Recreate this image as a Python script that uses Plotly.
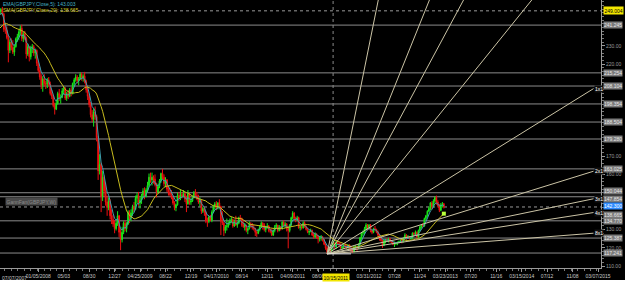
import pandas as pd
import plotly.graph_objects as go

# ---------------- weekly GBPJPY bars (open, high, low, close), week ending Saturday ----------------
ohlc_2007 = [
    (247.5, 249.5, 246.5, 248.5), (248.5, 250.5, 247.0, 249.8), (249.8, 251.1, 246.5, 247.2), (247.2, 248.0, 237.5, 239.0),
    (239.0, 242.5, 236.5, 238.3), (238.3, 240.5, 233.5, 234.5), (234.5, 236.0, 221.0, 227.5), (227.5, 233.5, 226.0, 232.0),
    (232.0, 234.0, 227.5, 229.0), (229.0, 233.0, 225.5, 226.5), (226.5, 230.5, 224.5, 229.5), (229.5, 234.5, 229.0, 233.8),
    (233.8, 236.5, 232.0, 235.0), (235.0, 238.5, 233.0, 237.5), (237.5, 241.0, 236.0, 239.5), (239.5, 241.5, 232.5, 234.0),
    (234.0, 237.5, 232.0, 236.5), (236.5, 238.0, 233.0, 234.0), (234.0, 235.0, 223.0, 225.5), (225.5, 231.0, 224.5, 229.5),
    (229.5, 230.0, 221.5, 224.0), (224.0, 230.0, 222.5, 228.5), (228.5, 231.0, 226.0, 229.5), (229.5, 230.5, 224.5, 226.0),
    (226.0, 228.5, 223.0, 227.5), (227.5, 228.0, 219.0, 220.5),
]
ohlc_2008 = [
    (220.5, 221.5, 215.5, 216.5), (216.5, 218.5, 211.5, 213.0), (213.0, 214.5, 206.5, 208.5), (208.5, 213.5, 205.0, 212.0),
    (212.0, 214.5, 208.0, 209.5), (209.5, 211.0, 206.5, 209.0), (209.0, 212.5, 207.0, 211.5), (211.5, 213.0, 208.0, 209.0),
    (209.0, 210.5, 203.0, 204.0), (204.0, 206.0, 201.0, 202.5), (202.5, 203.5, 196.5, 197.5), (197.5, 199.0, 192.6, 195.5),
    (195.5, 200.5, 195.0, 198.5), (198.5, 205.0, 198.0, 204.0), (204.0, 206.5, 200.0, 201.5), (201.5, 203.5, 198.5, 202.0),
    (202.0, 207.0, 201.5, 205.5), (205.5, 208.0, 203.5, 206.5), (206.5, 207.5, 200.5, 201.5), (201.5, 205.0, 200.0, 204.0),
    (204.0, 206.0, 201.0, 202.5), (202.5, 207.0, 202.0, 206.0), (206.0, 207.5, 202.5, 204.0), (204.0, 210.0, 203.5, 209.5),
    (209.5, 212.5, 208.0, 211.5), (211.5, 214.5, 210.5, 213.0), (213.0, 214.0, 209.5, 211.0), (211.0, 213.0, 208.5, 212.0),
    (212.0, 215.5, 211.5, 214.5), (214.5, 215.5, 211.0, 212.5), (212.5, 214.5, 210.5, 213.5), (213.5, 215.8, 209.5, 210.5),
    (210.5, 211.5, 204.5, 206.0), (206.0, 207.5, 200.5, 202.5), (202.5, 203.5, 196.5, 198.0), (198.0, 199.5, 191.0, 192.5),
    (192.5, 195.0, 188.5, 190.0), (190.0, 196.0, 186.0, 194.0), (194.0, 197.0, 189.5, 191.5), (191.5, 192.5, 178.0, 180.0),
    (180.0, 181.0, 157.0, 162.0), (162.0, 171.0, 160.0, 165.5), (165.5, 166.5, 139.5, 148.0), (148.0, 162.0, 145.5, 158.5),
    (158.5, 159.5, 148.0, 151.0), (151.0, 155.5, 143.0, 145.0), (145.0, 148.5, 137.5, 142.0), (142.0, 147.5, 140.5, 145.5),
    (145.5, 146.5, 135.5, 137.5), (137.5, 141.0, 133.0, 135.5), (135.5, 138.0, 131.5, 133.0), (133.0, 135.0, 128.0, 130.5),
]
ohlc_2009 = [
    (130.5, 134.5, 129.5, 133.5), (133.5, 140.0, 132.0, 137.5), (137.5, 138.0, 126.0, 128.5), (128.5, 130.5, 118.8, 124.5),
    (124.5, 131.5, 123.0, 128.5), (128.5, 134.5, 127.5, 133.5), (133.5, 135.0, 129.0, 130.5), (130.5, 134.0, 128.5, 133.0),
    (133.0, 140.5, 132.5, 139.5), (139.5, 140.5, 133.5, 136.5), (136.5, 141.0, 134.5, 139.0), (139.0, 143.5, 137.5, 142.5),
    (142.5, 145.0, 139.5, 141.0), (141.0, 148.5, 140.5, 147.0), (147.0, 150.0, 144.5, 148.5), (148.5, 150.5, 143.0, 144.5),
    (144.5, 147.5, 141.5, 146.0), (146.0, 149.5, 144.0, 148.5), (148.5, 152.5, 147.0, 151.0), (151.0, 153.0, 146.5, 148.0),
    (148.0, 152.5, 147.5, 151.5), (151.5, 156.0, 150.5, 154.0), (154.0, 160.5, 153.0, 158.5), (158.5, 161.0, 155.5, 157.0),
    (157.0, 161.0, 154.0, 158.5), (158.5, 159.5, 155.0, 157.5), (157.5, 160.0, 153.5, 154.5), (154.5, 155.5, 147.5, 150.5),
    (150.5, 155.0, 149.5, 153.5), (153.5, 157.5, 152.5, 156.5), (156.5, 161.0, 155.5, 160.5), (160.5, 163.0, 157.5, 158.5),
    (158.5, 160.0, 153.5, 155.0), (155.0, 158.5, 153.0, 157.0), (157.0, 157.5, 150.5, 152.0), (152.0, 153.5, 148.5, 150.0),
    (150.0, 152.5, 148.0, 149.0), (149.0, 151.5, 146.5, 147.5), (147.5, 148.5, 143.5, 144.5), (144.5, 145.5, 140.5, 142.0),
    (142.0, 144.0, 140.0, 143.5), (143.5, 150.0, 143.0, 148.5), (148.5, 150.5, 145.5, 147.0), (147.0, 152.0, 146.0, 149.0),
    (149.0, 150.5, 147.0, 148.0), (148.0, 151.5, 147.5, 149.5), (149.5, 150.0, 145.0, 146.5), (146.5, 148.5, 139.5, 144.0),
    (144.0, 151.5, 143.5, 149.5), (149.5, 150.0, 143.5, 145.0), (145.0, 147.0, 143.5, 145.5), (145.5, 148.5, 145.0, 147.5),
]
ohlc_2010 = [
    (147.5, 151.0, 147.0, 150.0), (150.0, 152.0, 147.5, 148.5), (148.5, 150.5, 146.0, 147.0), (147.0, 149.0, 144.0, 145.0),
    (145.0, 147.5, 142.5, 145.5), (145.5, 146.0, 138.5, 140.0), (140.0, 142.5, 139.0, 141.5), (141.5, 142.5, 137.5, 139.5),
    (139.5, 140.0, 133.5, 134.5), (134.5, 136.5, 131.5, 134.5), (134.5, 137.5, 133.5, 137.0), (137.0, 138.0, 134.5, 135.0),
    (135.0, 140.5, 134.0, 139.5), (139.5, 143.5, 139.0, 142.5), (142.5, 145.0, 141.0, 144.0), (144.0, 145.5, 140.5, 141.5),
    (141.5, 145.0, 141.0, 144.5), (144.5, 146.5, 141.5, 142.5), (142.5, 143.0, 127.0, 134.5), (134.5, 140.0, 132.5, 133.5),
    (133.5, 134.5, 126.5, 129.5), (129.5, 132.5, 128.0, 131.5), (131.5, 136.0, 129.5, 132.0), (132.0, 134.5, 131.0, 133.5),
    (133.5, 136.0, 132.5, 134.5), (134.5, 137.0, 133.5, 135.5), (135.5, 136.0, 131.0, 132.0), (132.0, 135.5, 131.5, 134.5),
    (134.5, 137.5, 132.0, 132.5), (132.5, 134.5, 131.0, 133.5), (133.5, 137.0, 133.0, 136.5), (136.5, 138.0, 135.0, 136.0),
    (136.0, 136.5, 131.5, 132.5), (132.5, 134.5, 131.0, 131.5), (131.5, 133.5, 129.5, 132.5), (132.5, 132.5, 128.5, 129.5),
    (129.5, 131.0, 127.5, 130.5), (130.5, 134.5, 130.0, 133.0), (133.0, 134.0, 131.0, 132.0), (132.0, 133.5, 130.0, 131.0),
    (131.0, 132.5, 129.5, 130.5), (130.5, 131.0, 126.5, 128.5), (128.5, 129.5, 126.0, 128.0), (128.0, 130.5, 127.5, 130.0),
    (130.0, 132.5, 129.0, 131.5), (131.5, 134.5, 131.0, 133.5), (133.5, 134.0, 130.0, 132.5), (132.5, 133.5, 129.0, 130.0),
    (130.0, 132.0, 128.5, 131.0), (131.0, 133.5, 130.5, 132.0), (132.0, 132.5, 128.5, 129.5), (129.5, 130.5, 128.0, 129.0),
]
ohlc_2011 = [
    (129.0, 130.5, 126.5, 127.0), (127.0, 130.0, 126.5, 129.5), (129.5, 132.5, 128.5, 131.5), (131.5, 133.5, 130.5, 132.5),
    (132.5, 132.5, 128.5, 129.5), (129.5, 132.5, 129.0, 131.5), (131.5, 132.0, 129.5, 130.5), (130.5, 134.5, 130.0, 134.0),
    (134.0, 135.0, 131.5, 132.0), (132.0, 134.0, 131.0, 133.0), (133.0, 133.5, 129.0, 131.0), (131.0, 132.0, 119.8, 129.5),
    (129.5, 133.0, 128.5, 132.5), (132.5, 137.0, 132.0, 136.5), (136.5, 140.0, 135.5, 139.0), (139.0, 139.5, 135.0, 136.0),
    (136.0, 137.0, 134.0, 135.5), (135.5, 137.5, 134.5, 136.5), (136.5, 137.0, 130.5, 131.0), (131.0, 132.0, 129.5, 131.5),
    (131.5, 133.0, 130.0, 131.0), (131.0, 134.5, 130.5, 133.5), (133.5, 134.5, 131.0, 131.5), (131.5, 132.0, 129.5, 130.0),
    (130.0, 131.0, 128.0, 128.5), (128.5, 129.5, 127.0, 129.0), (129.0, 130.5, 128.5, 129.5), (129.5, 130.0, 126.5, 127.0),
    (127.0, 128.5, 125.0, 126.0), (126.0, 128.5, 125.5, 127.5), (127.5, 128.0, 125.0, 126.5), (126.5, 127.0, 122.5, 125.0),
    (125.0, 126.5, 123.5, 125.5), (125.5, 127.0, 124.0, 126.0), (126.0, 126.5, 123.5, 124.5), (124.5, 125.0, 121.5, 122.0),
    (122.0, 122.5, 119.0, 120.0), (120.0, 121.0, 116.8, 118.0), (118.0, 120.5, 117.5, 119.5), (119.5, 120.0, 117.6, 118.5),
    (118.5, 121.5, 118.0, 121.0), (121.0, 124.3, 120.5, 122.5), (122.5, 123.0, 119.5, 120.5), (120.5, 124.0, 119.5, 123.0),
    (123.0, 124.0, 121.5, 122.5), (122.5, 123.5, 121.0, 122.0), (122.0, 122.5, 119.5, 120.0), (120.0, 121.0, 119.0, 120.5),
    (120.5, 122.5, 119.5, 121.5), (121.5, 122.5, 120.0, 120.5), (120.5, 121.5, 119.5, 120.0), (120.0, 122.0, 119.5, 121.5),
    (121.5, 122.0, 119.0, 119.5),
]
ohlc_2012 = [
    (119.5, 120.5, 117.5, 118.5), (118.5, 119.5, 117.3, 118.0), (118.0, 121.0, 117.5, 120.5), (120.5, 121.5, 119.5, 120.5),
    (120.5, 121.0, 118.5, 120.0), (120.0, 122.5, 119.5, 122.0), (122.0, 126.0, 121.5, 125.5), (125.5, 128.5, 124.5, 128.0),
    (128.0, 129.5, 126.5, 128.5), (128.5, 131.5, 127.5, 130.5), (130.5, 133.5, 129.5, 132.5), (132.5, 133.0, 129.5, 131.0),
    (131.0, 133.0, 130.0, 132.5), (132.5, 133.0, 128.5, 129.5), (129.5, 130.0, 127.5, 128.5), (128.5, 131.0, 128.0, 130.5),
    (130.5, 132.0, 129.5, 130.0), (130.0, 130.5, 128.0, 128.5), (128.5, 129.5, 126.0, 127.0), (127.0, 127.5, 124.0, 125.0),
    (125.0, 126.5, 123.5, 124.0), (124.0, 124.5, 120.0, 121.5), (121.5, 124.5, 121.0, 124.0), (124.0, 125.0, 122.5, 124.5),
    (124.5, 125.5, 123.5, 124.0), (124.0, 125.5, 123.0, 125.0), (125.0, 125.5, 123.0, 123.5), (123.5, 124.0, 122.5, 123.0),
    (123.0, 124.0, 121.5, 122.0), (122.0, 123.5, 120.5, 122.5), (122.5, 123.0, 121.5, 122.5), (122.5, 123.5, 121.5, 123.0),
    (123.0, 124.0, 122.5, 123.5), (123.5, 124.5, 123.0, 124.0), (124.0, 124.5, 122.5, 123.5), (123.5, 126.0, 123.0, 125.5),
    (125.5, 128.0, 125.0, 127.0), (127.0, 127.5, 124.5, 125.5), (125.5, 127.0, 125.0, 126.0), (126.0, 126.5, 124.5, 125.0),
    (125.0, 126.0, 124.5, 125.5), (125.5, 128.5, 125.0, 128.0), (128.0, 128.5, 126.5, 127.5), (127.5, 129.5, 127.0, 128.5),
    (128.5, 129.0, 125.5, 126.0), (126.0, 130.0, 125.5, 129.5), (129.5, 132.0, 129.0, 131.5), (131.5, 133.0, 130.5, 132.5),
    (132.5, 133.5, 131.5, 132.0), (132.0, 136.5, 131.5, 136.0), (136.0, 138.0, 135.0, 137.5), (137.5, 140.5, 137.0, 140.0),
]
ohlc_2013 = [
    (140.0, 142.5, 139.5, 141.5), (141.5, 145.0, 140.5, 144.5), (144.5, 145.5, 141.0, 142.5), (142.5, 146.5, 142.0, 145.5),
    (145.5, 148.0, 144.5, 147.5), (147.5, 148.5, 143.5, 145.0), (145.0, 146.0, 142.0, 143.0), (143.0, 144.0, 139.5, 140.5),
    (140.5, 144.5, 140.0, 143.5), (143.5, 145.0, 142.0, 144.0), (144.0, 144.5, 141.5, 142.3),
]
# closes of the 20 weeks before the first visible bar (indicator warm-up)
pre_close_2007 = [236.5, 234.0, 229.5, 227.0, 231.5, 233.5, 236.0, 235.5, 237.5, 239.5,
                  240.5, 239.0, 241.5, 242.5, 243.5, 245.0, 245.5, 244.0, 246.5, 247.0]

# Gann fan
fan_origin_date = "2011-09-17"
fan_origin_price = 116.8
fan_slope_per_week = 0.505
fan_ratios = [8, 4, 3, 2, 1, 1/2, 1/3, 1/4, 1/8]
fan_names = ["1x8", "1x4", "1x3", "1x2", "1x1", "2x1", "3x1", "4x1", "8x1"]

# horizontal levels and their right-axis labels
level_values = [241.245, 215.254, 208.104, 198.354, 188.504, 179.280, 163.025, 150.044, 147.854, 134.770, 125.387, 117.241]
level_label_shift = [0, 0, 0, 0, 0, 0, 0, 2, -2, 0, 0, 0]
cross_price = 249.004
cross_date = "2011-10-15"
cross_date_label = "10/15/2011"

y_tick_vals = [110, 120, 130, 160, 170, 220, 230]
x_tick_dates = ["2008-01-05", "2008-05-03", "2008-08-30", "2008-12-27", "2009-04-25", "2009-08-22", "2009-12-19",
                "2010-04-17", "2010-08-14", "2010-12-11", "2011-04-09", "2011-08-06", "2011-12-03", "2012-03-31",
                "2012-07-28", "2012-11-24", "2013-03-23", "2013-07-20", "2013-11-16", "2014-03-15", "2014-07-12",
                "2014-11-08", "2015-03-07"]
x_tick_text = ["01/05/2008", "05/03", "08/30", "12/27", "04/25/2009", "08/22", "12/19", "04/17/2010", "08/14",
               "12/11", "04/09/2011", "08/06", "", "03/31/2012", "07/28", "11/24", "03/23/2013", "07/20", "11/16",
               "03/15/2014", "07/12", "11/08", "03/07/2015"]
first_date_label = "07/07/2007"

x_start, x_end = "2007-07-10", "2015-03-21"
y_min, y_max = 109.1, 254.9

# ---------------- build ----------------
bars = ohlc_2007 + ohlc_2008 + ohlc_2009 + ohlc_2010 + ohlc_2011 + ohlc_2012 + ohlc_2013
dates = pd.date_range("2007-07-07", periods=len(bars), freq="W-SAT")
o = [b[0] for b in bars]
h = [b[1] for b in bars]
l = [b[2] for b in bars]
c = [b[3] for b in bars]

close_all = pd.Series(pre_close_2007 + c)
n0 = len(pre_close_2007)
ema5 = close_all.ewm(span=5, adjust=False).mean().iloc[n0:].to_numpy()
sma20 = close_all.rolling(20).mean().iloc[n0:].to_numpy()

FONT = "Liberation Sans, Arial, sans-serif"
fig = go.Figure()

fig.add_trace(go.Candlestick(
    x=dates, open=o, high=h, low=l, close=c,
    increasing=dict(line=dict(color="#19e619", width=1), fillcolor="#19e619"),
    decreasing=dict(line=dict(color="#ee1111", width=1), fillcolor="#ee1111"),
    whiskerwidth=0, showlegend=False, hoverinfo="skip"))

fig.add_trace(go.Scatter(x=dates, y=ema5, mode="lines", line=dict(color="#3f9fb0", width=1),
                         showlegend=False, hoverinfo="skip"))
fig.add_trace(go.Scatter(x=dates, y=sma20, mode="lines", line=dict(color="#c8bc1e", width=1),
                         showlegend=False, hoverinfo="skip"))
fig.add_trace(go.Scatter(x=[dates[-1]], y=[sma20[-1]], mode="markers",
                         marker=dict(color="#b8ff3a", size=4, symbol="square"),
                         showlegend=False, hoverinfo="skip"))

# Gann fan lines
od = pd.Timestamp(fan_origin_date)
fan_end = pd.Timestamp("2015-02-14")
weeks_end = (fan_end - od).days / 7.0
for r, name in zip(fan_ratios, fan_names):
    y_end = fan_origin_price + fan_slope_per_week * r * weeks_end
    fig.add_trace(go.Scatter(x=[od, fan_end], y=[fan_origin_price, y_end], mode="lines",
                             line=dict(color="#cbc4a6", width=1), showlegend=False, hoverinfo="skip"))
    if r <= 1:
        fig.add_annotation(x=fan_end, y=y_end, xref="x", yref="y", text=name, showarrow=False,
                           xanchor="left", yanchor="middle", font=dict(size=5, color="#ffffff", family=FONT),
                           bgcolor="#101010", borderpad=0)
# base line of the fan
fig.add_trace(go.Scatter(x=[od, od + pd.Timedelta(weeks=16)], y=[fan_origin_price, fan_origin_price], mode="lines",
                         line=dict(color="#e8e8e8", width=1), showlegend=False, hoverinfo="skip"))

shapes = []
for v, s in zip(level_values, level_label_shift):
    shapes.append(dict(type="line", xref="paper", x0=0, x1=1, yref="y", y0=v, y1=v,
                       line=dict(color="#8c8c8c", width=1), layer="below"))
    fig.add_annotation(x=1, xref="paper", y=v, yref="y", text=f"{v:.3f}", showarrow=False, xanchor="left",
                       xshift=2, yshift=s, font=dict(size=5, color="#e8e8e8", family=FONT),
                       bgcolor="#7a7a7a", borderpad=0)
# current price
last = c[-1]
shapes.append(dict(type="line", xref="paper", x0=0, x1=1, yref="y", y0=last, y1=last,
                   line=dict(color="#9a9a9a", width=1, dash="dot"), layer="below"))
fig.add_annotation(x=1, xref="paper", y=last, yref="y", text=f"{last:.3f}", showarrow=False, xanchor="left",
                   xshift=2, yshift=1, font=dict(size=5, color="#ffffff", family=FONT), bgcolor="#2f8cff", borderpad=0)
# SMA value label
fig.add_annotation(x=1, xref="paper", y=sma20[-1], yref="y", text=f"{sma20[-1]:.3f}", showarrow=False,
                   xanchor="left", xshift=2, yshift=-1, font=dict(size=5, color="#e8e8e8", family=FONT),
                   bgcolor="#7a7a7a", borderpad=0)
# crosshair
shapes.append(dict(type="line", xref="paper", x0=0, x1=1, yref="y", y0=cross_price, y1=cross_price,
                   line=dict(color="#9a9a9a", width=1, dash="dot"), layer="below"))
shapes.append(dict(type="line", xref="x", x0=cross_date, x1=cross_date, yref="paper", y0=0, y1=1,
                   line=dict(color="#8a8a8a", width=1, dash="dot"), layer="below"))
fig.add_annotation(x=1, xref="paper", y=cross_price, yref="y", text=f"{cross_price:.3f}", showarrow=False,
                   xanchor="left", xshift=2, font=dict(size=5, color="#000000", family=FONT),
                   bgcolor="#f2e600", borderpad=0.5)
fig.add_annotation(x=cross_date, xref="x", y=0, yref="paper", yanchor="top", yshift=-5, xshift=3,
                   text=cross_date_label, showarrow=False, font=dict(size=5, color="#000000", family=FONT),
                   bgcolor="#f2e600", borderpad=0.5)
fig.add_annotation(x=0, xref="paper", y=0, yref="paper", yanchor="top", xanchor="left", yshift=-5,
                   text=first_date_label, showarrow=False, font=dict(size=5, color="#c8c8c8", family=FONT))

# indicator captions
fig.add_annotation(x=0, xref="paper", y=1, yref="paper", xanchor="left", yanchor="top", xshift=1, yshift=1,
                   text=f"EMA(GBPJPY,Close,5): {ema5[-1]:.3f}", showarrow=False,
                   font=dict(size=5, color="#46b4c8", family=FONT))
fig.add_annotation(x=0, xref="paper", y=1, yref="paper", xanchor="left", yanchor="top", xshift=1, yshift=-5,
                   text=f"SMA(GBPJPY,Close,20): {sma20[-1]:.3f}", showarrow=False,
                   font=dict(size=5, color="#d8cc20", family=FONT))
fig.add_annotation(x=0.008, xref="paper", y=145.3, yref="y", xanchor="left", text="GannFan(GBPJPY,W)",
                   showarrow=False, font=dict(size=5, color="#8a8a8a", family=FONT), bgcolor="#4a4a4a", borderpad=0.5)

# white strip under the chart
shapes.append(dict(type="rect", xref="paper", yref="paper", x0=-0.01, x1=1.05, y0=-0.15, y1=-0.045,
                   fillcolor="#ffffff", line=dict(width=0), layer="above"))

fig.update_layout(
    width=625, height=306, margin=dict(l=0, r=24, t=0, b=38),
    paper_bgcolor="#000000", plot_bgcolor="#000000", shapes=shapes, showlegend=False,
    xaxis=dict(type="date", range=[x_start, x_end], rangeslider=dict(visible=False), showgrid=False,
               zeroline=False, showline=True, linecolor="#9a9a9a", ticks="outside", ticklen=3, tickcolor="#9a9a9a",
               tickmode="array", tickvals=x_tick_dates, ticktext=x_tick_text,
               tickfont=dict(size=5, color="#c8c8c8", family=FONT),
               minor=dict(ticks="outside", ticklen=2, tickcolor="#7a7a7a", dtick="M1", showgrid=False)),
    yaxis=dict(range=[y_min, y_max], side="right", showgrid=False, zeroline=False, showline=True,
               linecolor="#9a9a9a", ticks="outside", ticklen=3, tickcolor="#9a9a9a",
               tickmode="array", tickvals=y_tick_vals, ticktext=[f"{v:.2f}" for v in y_tick_vals],
               tickfont=dict(size=5, color="#9a9a9a", family=FONT),
               minor=dict(ticks="outside", ticklen=2, tickcolor="#7a7a7a", dtick=2, showgrid=False)),
)

fig.write_html("out.html")
